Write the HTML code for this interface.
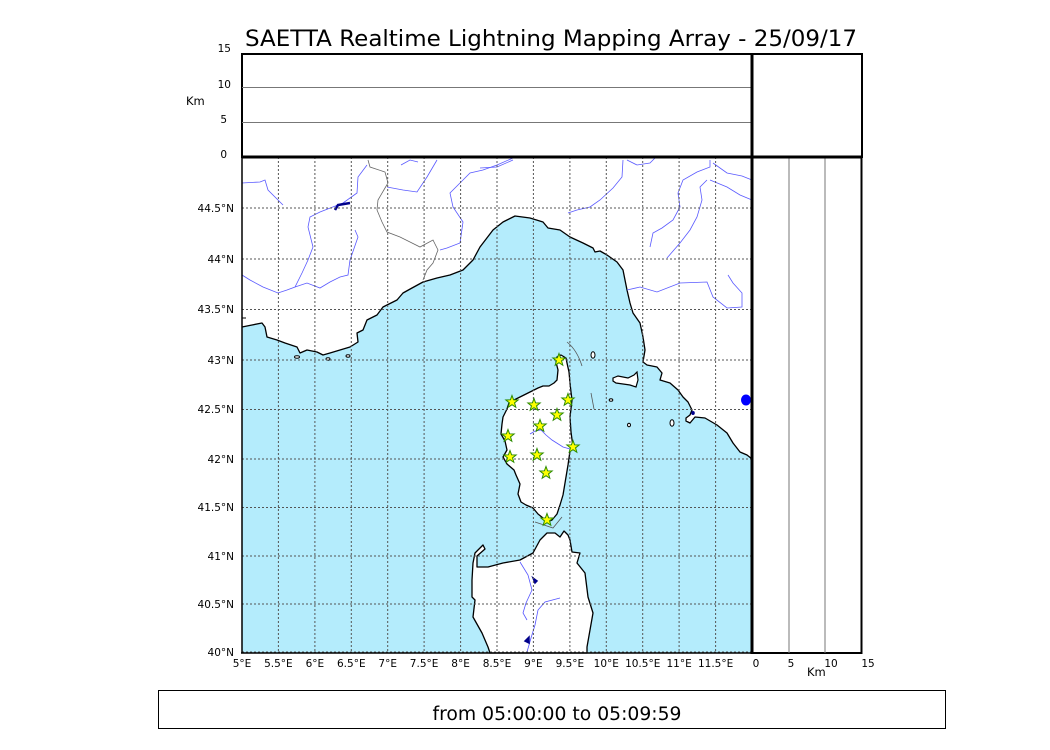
<!DOCTYPE html>
<html><head><meta charset="utf-8"><style>
html,body{margin:0;padding:0;background:#fff;}
svg{display:block;font-family:"DejaVu Sans","Liberation Sans",sans-serif;}
</style></head><body>
<svg width="1050" height="750" viewBox="0 0 1050 750" xmlns="http://www.w3.org/2000/svg">
<defs>
<polygon id="st" points="0,-6.5 1.59,-2.18 6.18,-2.01 2.57,0.83 3.82,5.26 0,2.7 -3.82,5.26 -2.57,0.83 -6.18,-2.01 -1.59,-2.18" fill="#ffff00" stroke="#2a8a00" stroke-width="1"/>
</defs>
<rect width="1050" height="750" fill="#fff"/>
<text x="551" y="46" font-size="22" text-anchor="middle" textLength="612" lengthAdjust="spacingAndGlyphs">SAETTA Realtime Lightning Mapping Array - 25/09/17</text>

<!-- map sea -->
<rect x="242" y="157" width="510" height="496" fill="#b4ecfc"/>
<!-- mainland -->
<path d="M242,327 L252,325 262,323 265,327 267,337 277,340 285,343 297,347 300,353 307,350 317,352 323,355 330,353 340,350 350,347 358,342 357,333 363,330 367,320 377,315 383,307 397,300 403,293 412,288 423,282 437,278 450,275 463,270 473,260 480,247 493,230 503,222 515,216 530,218 543,222 548,228 560,230 570,237 583,243 593,248 595,252 600,251 607,255 617,262 623,270 627,290 630,303 633,313 640,323 643,337 645,350 643,362 647,365 657,367 662,373 660,380 670,383 678,390 683,397 688,402 692,410 690,415 686,418 686,421 690,423 695,417 705,418 717,425 727,433 733,443 740,452 747,455 752,459 L752,157 L242,157 Z" fill="#fff" stroke="none"/>
<path d="M242,327 L252,325 262,323 265,327 267,337 277,340 285,343 297,347 300,353 307,350 317,352 323,355 330,353 340,350 350,347 358,342 357,333 363,330 367,320 377,315 383,307 397,300 403,293 412,288 423,282 437,278 450,275 463,270 473,260 480,247 493,230 503,222 515,216 530,218 543,222 548,228 560,230 570,237 583,243 593,248 595,252 600,251 607,255 617,262 623,270 627,290 630,303 633,313 640,323 643,337 645,350 643,362 647,365 657,367 662,373 660,380 670,383 678,390 683,397 688,402 692,410 690,415 686,418 686,421 690,423 695,417 705,418 717,425 727,433 733,443 740,452 747,455 752,459" fill="none" stroke="#000" stroke-width="1.3" stroke-linejoin="round"/>
<line x1="242" y1="318" x2="246" y2="318" stroke="#000" stroke-width="1"/>
<!-- small islands -->
<ellipse cx="297" cy="357" rx="2.5" ry="1.2" fill="#fff" stroke="#000" stroke-width="1"/>
<ellipse cx="328" cy="359" rx="2" ry="1.2" fill="#fff" stroke="#000" stroke-width="1"/>
<ellipse cx="348" cy="356" rx="2" ry="1.2" fill="#fff" stroke="#000" stroke-width="1"/>
<ellipse cx="593" cy="355" rx="2" ry="3.2" fill="#fff" stroke="#000" stroke-width="1"/>
<path d="M613,378 L618,376 628,378 634,375 637,372 638,380 636,387 630,385 623,384 616,383 613,381 Z" fill="#fff" stroke="#000" stroke-width="1.2"/>
<ellipse cx="611" cy="400" rx="1.8" ry="1.3" fill="#fff" stroke="#000" stroke-width="1"/>
<ellipse cx="629" cy="425" rx="1.5" ry="1.8" fill="#fff" stroke="#000" stroke-width="1"/>
<ellipse cx="672" cy="423" rx="2" ry="3.2" fill="#fff" stroke="#000" stroke-width="1"/>
<ellipse cx="746" cy="400" rx="5" ry="5.5" fill="#0000ff"/>
<ellipse cx="693" cy="413" rx="1.8" ry="2" fill="#00008b"/>

<!-- Corsica -->
<path d="M557,357 L561,355 566,358 567,363 569,372 570,383 571,392 572,400 570,417 571,432 573,447 570,451 568,465 565,483 563,495 560,505 557,514 552,520 547,522 543,518 538,514 533,508 526,505 521,502 518,494 520,484 516,475 514,470 507,464 503,457 507,450 505,441 501,434 502,424 503,417 507,409 509,403 516,399 524,395 532,391 538,388 543,386 549,386 554,383 557,380 558,370 556,362 Z" fill="#fff" stroke="#000" stroke-width="1.3" stroke-linejoin="round"/>
<path d="M530,434 L535,431 541,430 546,435 552,440 563,447 570,449" fill="none" stroke="#5555ff" stroke-width="0.8"/>
<path d="M567,342 Q577,350 582,366" fill="none" stroke="#555" stroke-width="0.8"/>
<path d="M591,393 L594,409" fill="none" stroke="#555" stroke-width="0.8"/>
<path d="M535,522 L553,528 562,517" fill="none" stroke="#555" stroke-width="0.8"/>

<!-- Sardinia -->
<path d="M490,653 L488,647 482,633 473,617 475,600 472,597 472,580 473,563 475,553 479,549 483,545 485,549 477,556 477,567 488,567 503,563 520,560 533,553 540,540 547,533 555,533 560,537 564,531 568,535 570,540 572,552 580,553 577,563 585,573 588,597 593,613 590,630 587,647 587,653 Z" fill="#fff" stroke="#000" stroke-width="1.3" stroke-linejoin="round"/>
<path d="M520,562 L528,575 532,590 526,603 523,613 527,620" fill="none" stroke="#5555ff" stroke-width="0.8"/>
<path d="M560,598 L545,602 538,610 535,625 531,638 527,652" fill="none" stroke="#5555ff" stroke-width="0.8"/>
<path d="M533,578 L537,581 535,583 Z" fill="#00008b" stroke="#00008b" stroke-width="1.5"/>
<path d="M525,641 L529,637 529,643 Z" fill="#00008b" stroke="#00008b" stroke-width="1.5"/>

<!-- borders -->
<path d="M368,160 L370,167 385,172 388,183 385,188 378,200 377,210 382,222 387,232 400,237 410,242 420,247 433,240 438,250 433,263 427,270 423,280" fill="none" stroke="#666" stroke-width="0.8"/>
<!-- rivers -->
<g fill="none" stroke="#5a5aff" stroke-width="0.8">
<path d="M242,183 L260,182 265,180 268,190 283,205"/>
<path d="M367,165 L358,177 357,193 343,203 320,212 310,217 308,227 313,247 308,260 302,273 295,287 287,290 278,293 263,287 250,280 242,275"/>
<path d="M295,287 L307,283 320,288 330,282 340,277 348,275 350,260 358,237 355,230"/>
<path d="M387,187 L403,190 417,192 427,177 437,160"/>
<path d="M513,158 L497,165 483,170 470,173 460,183 450,193 453,207 463,222 460,243 447,248 440,250"/>
<path d="M480,168 L497,167 513,160"/>
<path d="M623,160 L622,177 613,188 600,200 590,207 577,210 568,213"/>
<path d="M627,160 L637,165 650,163 655,158"/>
<path d="M710,160 L710,167 697,172 683,180 678,193 680,207 673,220 662,228 653,233 650,247"/>
<path d="M713,163 L727,173 742,176 752,180"/>
<path d="M707,180 L700,187 702,200 697,217 690,230 680,243 667,258"/>
<path d="M710,180 L727,187 740,195 752,200"/>
<path d="M627,290 L640,287 657,292 680,283 707,282 713,297 727,308 742,307 742,293 733,283 728,275"/>
<path d="M401,165 L410,160 418,162"/>
</g>
<path d="M335,210 L338,205 350,203" fill="none" stroke="#00008b" stroke-width="2.5"/>

<!-- grid -->
<g stroke="#555" stroke-width="1" stroke-dasharray="2,2" fill="none">
<path d="M278.4,157V653M314.9,157V653M351.3,157V653M387.7,157V653M424.1,157V653M460.6,157V653M497,157V653M533.4,157V653M569.9,157V653M606.3,157V653M642.7,157V653M679.1,157V653M715.6,157V653"/>
<path d="M242,208H752M242,259H752M242,309.5H752M242,360H752M242,409.5H752M242,459H752M242,507.5H752M242,556H752M242,604H752M242,652H752"/>
</g>

<!-- stars -->
<use href="#st" x="559" y="360"/>
<use href="#st" x="512" y="402"/>
<use href="#st" x="534" y="405"/>
<use href="#st" x="568" y="400"/>
<use href="#st" x="557" y="415"/>
<use href="#st" x="540" y="426"/>
<use href="#st" x="508" y="436"/>
<use href="#st" x="573" y="447"/>
<use href="#st" x="510" y="457"/>
<use href="#st" x="537" y="455"/>
<use href="#st" x="546" y="473"/>
<use href="#st" x="547" y="520"/>

<!-- map axes -->
<line x1="242" y1="157" x2="242" y2="653.5" stroke="#000" stroke-width="1.5"/>
<line x1="241" y1="653" x2="752" y2="653" stroke="#000" stroke-width="1.5"/>

<!-- top panel -->
<rect x="242" y="54" width="620" height="103" fill="none" stroke="#000" stroke-width="2"/>
<line x1="242" y1="87.5" x2="752" y2="87.5" stroke="#777" stroke-width="1"/>
<line x1="242" y1="122.5" x2="752" y2="122.5" stroke="#777" stroke-width="1"/>
<!-- right panel -->
<rect x="752" y="157" width="109.5" height="496" fill="#fff" stroke="#000" stroke-width="2"/>
<line x1="789" y1="157" x2="789" y2="653" stroke="#777" stroke-width="1"/>
<line x1="825" y1="157" x2="825" y2="653" stroke="#777" stroke-width="1"/>
<line x1="752" y1="54" x2="752" y2="654" stroke="#000" stroke-width="3"/>
<line x1="242" y1="157" x2="862" y2="157" stroke="#000" stroke-width="3"/>

<!-- labels -->
<g font-size="10.5" fill="#000">
<g text-anchor="end">
<text x="231" y="52">15</text>
<text x="231" y="88">10</text>
<text x="227" y="123">5</text>
<text x="227" y="158">0</text>
<text x="234" y="212">44.5°N</text>
<text x="234" y="263">44°N</text>
<text x="234" y="313">43.5°N</text>
<text x="234" y="364">43°N</text>
<text x="234" y="413">42.5°N</text>
<text x="234" y="463">42°N</text>
<text x="234" y="511">41.5°N</text>
<text x="234" y="560">41°N</text>
<text x="234" y="608">40.5°N</text>
<text x="234" y="656">40°N</text>
</g>
<text x="186" y="105" font-size="11.5">Km</text>
<g text-anchor="middle">
<text x="242" y="667">5°E</text>
<text x="278.4" y="667">5.5°E</text>
<text x="314.9" y="667">6°E</text>
<text x="351.3" y="667">6.5°E</text>
<text x="387.7" y="667">7°E</text>
<text x="424.1" y="667">7.5°E</text>
<text x="460.6" y="667">8°E</text>
<text x="497" y="667">8.5°E</text>
<text x="533.4" y="667">9°E</text>
<text x="569.9" y="667">9.5°E</text>
<text x="606.3" y="667">10°E</text>
<text x="642.7" y="667">10.5°E</text>
<text x="679.1" y="667">11°E</text>
<text x="715.6" y="667">11.5°E</text>
<text x="756" y="667">0</text>
<text x="791" y="667">5</text>
<text x="831" y="667">10</text>
<text x="868" y="667">15</text>
</g>
<text x="807" y="676" font-size="11.5">Km</text>
</g>

<!-- bottom box -->
<rect x="158.5" y="690.5" width="787" height="38" fill="#fff" stroke="#000" stroke-width="1"/>
<text x="557" y="720" font-size="18.5" text-anchor="middle" textLength="249" lengthAdjust="spacingAndGlyphs">from 05:00:00 to 05:09:59</text>
</svg>
</body></html>
